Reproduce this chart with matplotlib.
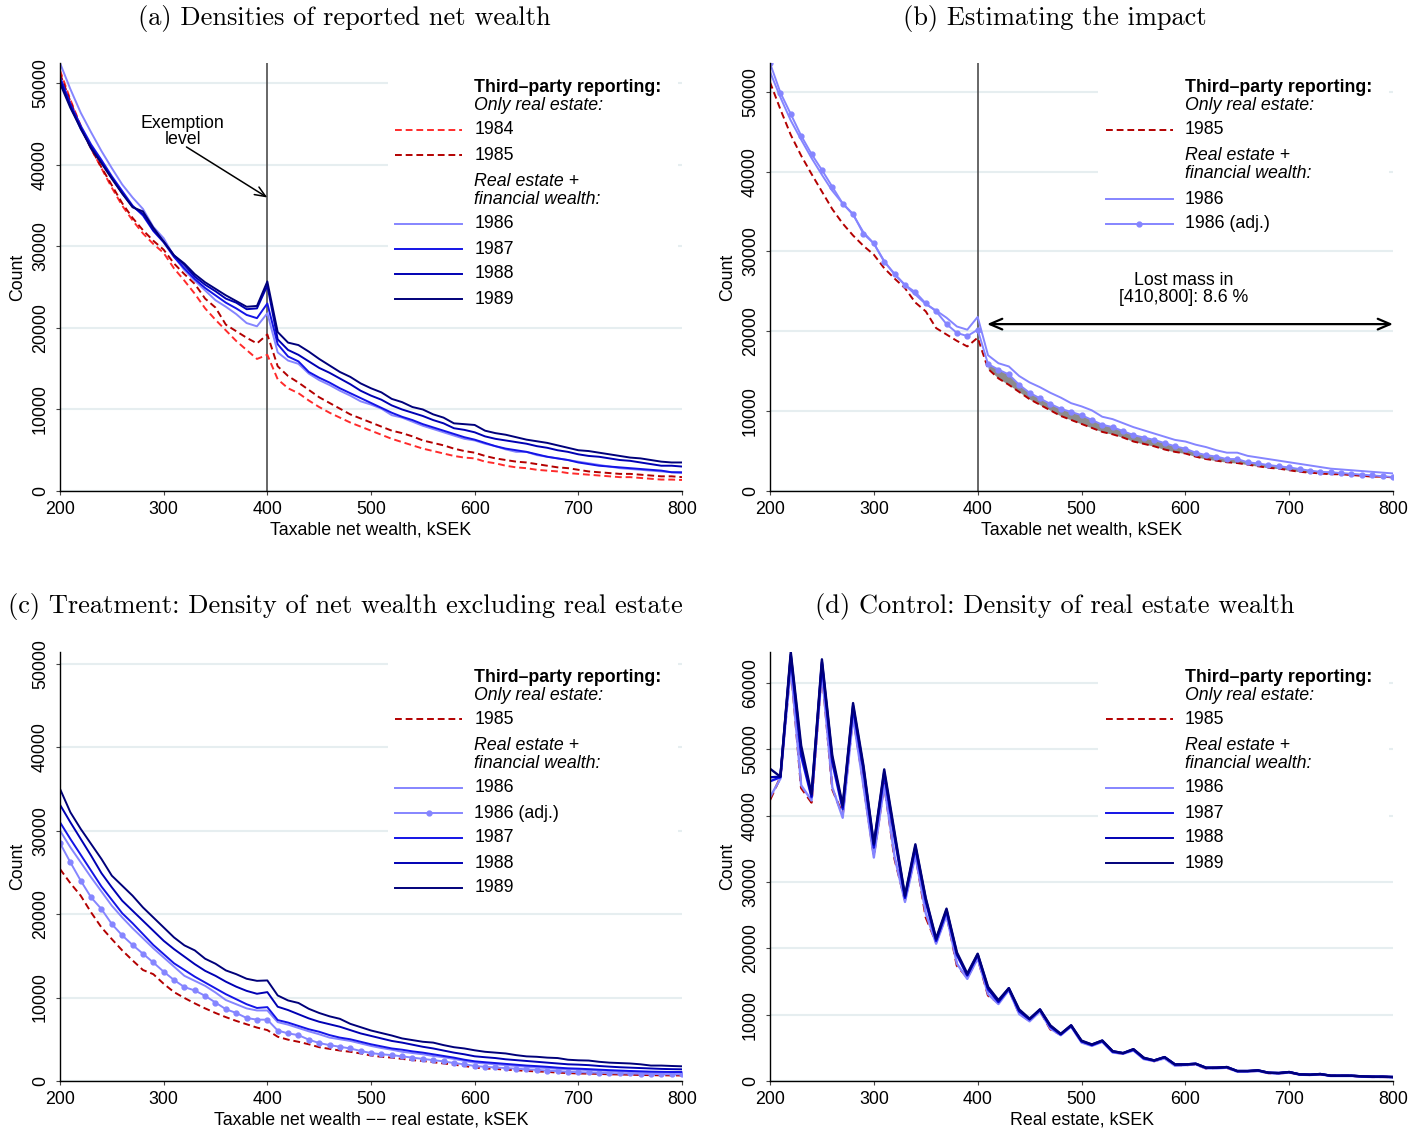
import numpy as np
import matplotlib
matplotlib.use("Agg")
import matplotlib.pyplot as plt
from matplotlib.patches import Rectangle

plt.rcParams['font.family'] = ['Liberation Sans', 'DejaVu Sans']
plt.rcParams['font.size'] = 12.8

# wealth bins (kSEK), 10k wide
bins = np.arange(200, 801, 10)

# ---- (a) taxable net wealth, counts in thousands --------------------------
a_1984 = [51.6, 48.0, 44.8, 42.0, 39.6, 37.2, 35.0, 33.2, 31.6, 30.3,
          29.2, 27.3, 25.8, 24.2, 22.4, 21.0, 19.7, 18.4, 17.3, 16.2,
          16.7, 13.7, 12.6, 12.0, 11.1, 10.3, 9.6, 9.0, 8.4, 7.9,
          7.4, 6.9, 6.4, 6.0, 5.6, 5.2, 4.9, 4.6, 4.3, 4.1,
          4.0, 3.6, 3.4, 3.1, 2.9, 2.8, 2.6, 2.5, 2.4, 2.2,
          2.1, 2.0, 1.9, 1.8, 1.7, 1.7, 1.6, 1.5, 1.4, 1.4,
          1.35]
a_1985 = [51.2, 47.8, 44.6, 42.0, 39.7, 37.5, 35.3, 33.5, 32.0, 30.7,
          29.6, 27.9, 26.6, 25.4, 23.6, 22.5, 20.4, 19.6, 18.8, 18.1,
          19.2, 15.3, 14.1, 13.3, 12.4, 11.5, 10.8, 10.1, 9.4, 8.9,
          8.4, 7.9, 7.4, 7.1, 6.7, 6.2, 5.9, 5.6, 5.2, 4.9,
          4.7, 4.3, 4.0, 3.8, 3.6, 3.5, 3.3, 3.1, 2.9, 2.8,
          2.6, 2.4, 2.3, 2.2, 2.1, 2.1, 2.0, 1.9, 1.8, 1.8,
          1.7]
a_1986 = [52.5, 49.3, 46.4, 44.0, 41.7, 39.6, 37.6, 36.0, 34.6, 32.4,
          31.0, 28.8, 27.1, 25.8, 24.6, 23.4, 22.6, 21.7, 20.6, 20.2,
          21.8, 17.0, 16.0, 15.6, 14.4, 13.6, 13.0, 12.3, 11.7, 11.0,
          10.6, 10.1, 9.3, 9.0, 8.5, 8.0, 7.6, 7.2, 6.8, 6.4,
          6.2, 5.8, 5.5, 5.1, 4.8, 4.8, 4.4, 4.2, 4.0, 3.8,
          3.6, 3.4, 3.2, 3.0, 2.8, 2.7, 2.6, 2.5, 2.4, 2.3,
          2.2]
a_1987 = [50.8, 47.5, 44.8, 42.5, 40.6, 38.6, 36.8, 35.0, 33.8, 31.9,
          30.5, 28.7, 27.3, 26.0, 24.9, 24.0, 23.1, 22.4, 21.6, 21.2,
          23.0, 18.0, 16.5, 15.9, 14.6, 13.9, 13.3, 12.6, 12.0, 11.4,
          10.8, 10.2, 9.6, 9.1, 8.7, 8.2, 7.8, 7.4, 7.0, 6.6,
          6.3, 5.9, 5.5, 5.2, 5.0, 4.8, 4.5, 4.2, 4.0, 3.8,
          3.5, 3.3, 3.1, 3.0, 2.9, 2.8, 2.7, 2.6, 2.5, 2.3,
          2.3]
a_1988 = [50.4, 47.2, 44.4, 42.2, 40.3, 38.4, 36.5, 34.9, 34.0, 32.0,
          30.6, 28.9, 27.7, 26.3, 25.3, 24.5, 23.6, 23.1, 22.3, 22.4,
          25.2, 18.6, 17.3, 16.7, 15.9, 15.1, 14.5, 13.8, 13.1, 12.3,
          11.7, 11.2, 10.5, 10.0, 9.6, 9.2, 8.7, 8.3, 7.7, 7.5,
          7.2, 6.7, 6.4, 6.2, 6.0, 5.8, 5.5, 5.3, 5.0, 4.8,
          4.5, 4.3, 4.2, 4.0, 3.8, 3.7, 3.5, 3.3, 3.1, 3.1,
          3.0]
a_1989 = [50.0, 47.0, 44.5, 42.0, 40.2, 38.3, 36.5, 34.8, 34.3, 32.3,
          30.6, 28.9, 27.9, 26.6, 25.6, 24.8, 24.0, 23.3, 22.6, 22.7,
          25.7, 19.5, 18.2, 17.9, 17.1, 16.2, 15.4, 14.6, 14.0, 13.2,
          12.6, 12.1, 11.3, 10.9, 10.3, 10.0, 9.4, 9.0, 8.3, 8.2,
          8.1, 7.4, 7.1, 6.9, 6.6, 6.3, 6.1, 5.9, 5.6, 5.3,
          5.0, 4.9, 4.7, 4.5, 4.3, 4.1, 4.0, 3.8, 3.6, 3.5,
          3.5]

# ---- (b) 1986 adjusted for the lost mass ----------------------------------
b_1986_adj = [53.6, 49.9, 47.2, 44.5, 42.2, 40.2, 38.1, 36.0, 34.7, 32.2,
              31.0, 28.7, 27.2, 25.8, 24.9, 23.5, 22.5, 20.9, 19.8, 19.4,
              20.2, 15.9, 15.2, 14.6, 13.3, 12.3, 11.6, 10.9, 10.3, 9.9,
              9.5, 8.9, 8.3, 8.0, 7.5, 7.0, 6.7, 6.4, 6.0, 5.6,
              5.3, 4.8, 4.5, 4.3, 4.0, 4.0, 3.6, 3.45, 3.25, 3.1,
              2.95, 2.75, 2.55, 2.4, 2.35, 2.25, 2.15, 2.05, 1.95, 1.85,
              1.75]

# ---- (c) net wealth excluding real estate ---------------------------------
c_1985 = [25.4, 23.7, 22.2, 20.2, 18.4, 17.0, 15.65, 14.45, 13.3, 12.8,
          11.65, 10.65, 9.95, 9.3, 8.7, 8.15, 7.65, 7.2, 6.8, 6.4,
          6.1, 5.3, 4.95, 4.7, 4.4, 4.05, 3.85, 3.65, 3.5, 3.3,
          3.05, 2.9, 2.8, 2.65, 2.5, 2.4, 2.25, 2.1, 1.95, 1.8,
          1.6, 1.5, 1.45, 1.35, 1.3, 1.2, 1.15, 1.1, 1.0, 0.95,
          0.9, 0.88, 0.85, 0.8, 0.78, 0.75, 0.72, 0.7, 0.68, 0.67,
          0.66]
c_1986 = [30.0, 28.0, 26.2, 24.4, 22.7, 21.0, 19.6, 18.3, 17.1, 15.9,
          14.8, 13.7, 12.6, 12.0, 11.4, 10.6, 9.7, 9.2, 8.7, 8.45,
          8.45, 7.05, 6.75, 6.35, 5.95, 5.6, 5.2, 5.0, 4.8, 4.5,
          4.2, 3.95, 3.75, 3.5, 3.35, 3.2, 3.0, 2.85, 2.65, 2.4,
          2.2, 2.1, 2.0, 1.9, 1.8, 1.7, 1.62, 1.55, 1.45, 1.4,
          1.36, 1.3, 1.25, 1.2, 1.15, 1.1, 1.07, 1.04, 1.02, 1.0,
          1.0]
c_1986_adj = [28.5, 26.2, 24.0, 22.0, 20.6, 18.8, 17.45, 16.3, 15.25, 14.2,
              13.1, 12.1, 11.25, 10.85, 10.2, 9.4, 8.6, 8.15, 7.55, 7.35,
              7.35, 6.05, 5.7, 5.5, 4.95, 4.55, 4.3, 4.1, 3.9, 3.6,
              3.35, 3.2, 3.1, 2.95, 2.8, 2.65, 2.5, 2.35, 2.15, 2.0,
              1.8, 1.7, 1.62, 1.55, 1.48, 1.4, 1.33, 1.25, 1.18, 1.1,
              1.06, 1.02, 0.98, 0.95, 0.92, 0.9, 0.87, 0.85, 0.82, 0.8,
              0.8]
c_1987 = [31.0, 29.0, 27.1, 25.2, 23.3, 21.7, 20.1, 18.9, 17.6, 16.3,
          15.2, 14.1, 13.3, 12.5, 11.8, 11.1, 10.4, 9.8, 9.2, 8.75,
          8.85, 7.3, 7.0, 6.6, 6.2, 5.9, 5.5, 5.2, 5.0, 4.7,
          4.4, 4.15, 3.9, 3.75, 3.55, 3.4, 3.2, 3.0, 2.8, 2.55,
          2.36, 2.25, 2.15, 2.05, 1.95, 1.85, 1.78, 1.7, 1.6, 1.52,
          1.48, 1.42, 1.36, 1.3, 1.25, 1.2, 1.16, 1.12, 1.1, 1.08,
          1.08]
c_1988 = [33.1, 31.0, 29.0, 27.0, 24.9, 23.2, 21.6, 20.4, 19.2, 18.0,
          16.8, 15.8, 14.9, 14.0, 13.2, 12.6, 11.9, 11.3, 10.8, 10.45,
          10.65, 8.9, 8.5, 8.0, 7.5, 7.1, 6.8, 6.5, 6.1, 5.7,
          5.4, 5.1, 4.8, 4.6, 4.35, 4.1, 3.9, 3.65, 3.4, 3.2,
          2.96, 2.85, 2.75, 2.6, 2.5, 2.4, 2.3, 2.2, 2.1, 2.0,
          1.96, 1.9, 1.8, 1.72, 1.65, 1.6, 1.55, 1.5, 1.45, 1.42,
          1.4]
c_1989 = [35.0, 32.2, 30.2, 28.4, 26.6, 24.6, 23.4, 22.2, 20.8, 19.6,
          18.4, 17.2, 16.25, 15.65, 14.65, 14.05, 13.25, 12.8, 12.25, 12.0,
          12.05, 10.25, 9.65, 9.35, 8.65, 8.15, 7.75, 7.45, 6.85, 6.45,
          6.05, 5.75, 5.45, 5.1, 4.9, 4.7, 4.6, 4.3, 4.05, 3.9,
          3.68, 3.5, 3.4, 3.3, 3.1, 2.95, 2.9, 2.8, 2.75, 2.55,
          2.48, 2.45, 2.3, 2.2, 2.15, 2.1, 2.0, 1.85, 1.85, 1.8,
          1.76]

# ---- (d) real estate wealth -----------------------------------------------
d_1985 = [42.4, 45.8, 62.8, 44.2, 42.0, 62.0, 44.0, 40.2, 55.2, 44.8,
          34.0, 44.8, 33.5, 27.3, 34.3, 24.7, 20.9, 25.2, 17.4, 15.6,
          18.6, 12.9, 11.8, 13.8, 10.2, 9.1, 10.6, 7.8, 7.0, 8.3,
          5.9, 5.4, 6.0, 4.4, 4.1, 4.7, 3.4, 3.0, 3.5, 2.4,
          2.4, 2.5, 1.9, 2.0, 2.0, 1.45, 1.45, 1.55, 1.2, 1.15,
          1.3, 0.98, 0.92, 1.0, 0.78, 0.78, 0.78, 0.68, 0.62, 0.62,
          0.58]
d_1986 = [42.8, 45.6, 62.5, 44.6, 42.3, 61.7, 44.3, 39.7, 54.9, 44.5,
          33.7, 44.6, 33.8, 27.0, 34.0, 25.3, 20.7, 25.0, 17.7, 15.4,
          18.5, 13.1, 11.6, 13.7, 10.1, 9.0, 10.5, 7.9, 6.9, 8.2,
          5.8, 5.3, 5.9, 4.3, 4.1, 4.6, 3.3, 3.0, 3.4, 2.3,
          2.4, 2.5, 1.9, 1.9, 2.0, 1.4, 1.4, 1.5, 1.2, 1.1,
          1.3, 0.95, 0.9, 1.0, 0.75, 0.75, 0.75, 0.65, 0.6, 0.6,
          0.55]
d_1987 = [45.2, 45.8, 64.0, 49.0, 42.8, 62.9, 48.0, 41.0, 56.2, 46.8,
          35.2, 46.2, 36.6, 27.6, 35.1, 27.0, 21.1, 25.6, 19.0, 15.9,
          19.0, 13.8, 11.9, 13.9, 10.5, 9.3, 10.7, 8.2, 7.0, 8.3,
          6.0, 5.4, 6.0, 4.4, 4.2, 4.7, 3.4, 3.1, 3.6, 2.5,
          2.5, 2.6, 2.0, 2.0, 2.1, 1.5, 1.5, 1.6, 1.25, 1.2,
          1.35, 1.0, 0.95, 1.05, 0.8, 0.8, 0.8, 0.7, 0.65, 0.65,
          0.6]
d_1988 = [45.8, 45.9, 64.3, 49.8, 43.0, 63.2, 48.6, 41.3, 56.6, 47.2,
          35.6, 46.6, 37.1, 27.8, 35.4, 27.4, 21.3, 25.8, 19.2, 16.0,
          19.1, 14.0, 12.0, 14.0, 10.6, 9.3, 10.8, 8.3, 7.1, 8.4,
          6.0, 5.5, 6.1, 4.5, 4.2, 4.8, 3.5, 3.1, 3.6, 2.5,
          2.5, 2.6, 2.0, 2.0, 2.1, 1.5, 1.5, 1.6, 1.25, 1.2,
          1.35, 1.0, 0.95, 1.05, 0.8, 0.8, 0.8, 0.7, 0.65, 0.65,
          0.6]
d_1989 = [47.1, 45.9, 64.7, 50.6, 43.3, 63.6, 49.1, 41.6, 57.0, 47.6,
          35.8, 47.0, 37.5, 28.0, 35.7, 27.6, 21.5, 26.0, 19.4, 16.2,
          19.2, 14.2, 12.2, 14.0, 10.8, 9.4, 10.8, 8.4, 7.1, 8.4,
          6.1, 5.5, 6.1, 4.5, 4.2, 4.8, 3.5, 3.1, 3.6, 2.5,
          2.5, 2.6, 2.0, 2.0, 2.1, 1.5, 1.5, 1.6, 1.25, 1.2,
          1.35, 1.0, 0.95, 1.05, 0.8, 0.8, 0.8, 0.7, 0.65, 0.65,
          0.6]

STYLE = {
    '1984': dict(color='#ff2b2b', ls=(0, (3.5, 2))),
    '1985': dict(color='#b30000', ls=(0, (3.5, 2))),
    '1986': dict(color='#8585ff', ls='-'),
    '1986 (adj.)': dict(color='#8585ff', ls='-', marker='o', ms=3.5),
    '1987': dict(color='#1414e6', ls='-'),
    '1988': dict(color='#0000b3', ls='-'),
    '1989': dict(color='#00007a', ls='-'),
}
LW = 1.4


def k(v):
    return np.asarray(v) * 1000


def setup_axes(ax, ymax, ystep, xlabel):
    ax.set_xlim(200, 800)
    ax.set_ylim(0, ymax)
    for s in ['top', 'right']:
        ax.spines[s].set_visible(False)
    for s in ['left', 'bottom']:
        ax.spines[s].set_linewidth(1.0)
    ax.set_xticks(range(200, 801, 100))
    yt = list(range(0, int(ymax) + 1, ystep))
    ax.set_yticks(yt)
    ax.set_yticklabels([str(t) for t in yt], rotation=90, va='center')
    ax.tick_params(axis='both', direction='out', length=3, width=0.8,
                   color='#444444', labelsize=12.8)
    ax.tick_params(axis='y', pad=5)
    ax.tick_params(axis='x', pad=4)
    ax.yaxis.grid(True, color='#e6eef0', lw=1.5)
    ax.set_axisbelow(True)
    ax.set_ylabel('Count', fontsize=12.8, labelpad=4)
    ax.set_xlabel(xlabel, fontsize=12.8, labelpad=3)


def add_key(ax, ax_h, first, second):
    """Stata-like key: bold title, two italic group headers, sample lines."""
    tr = ax.transAxes

    def fy(px):
        return 1 - (px + 2) / ax_h

    def row(label, y):
        st = dict(STYLE[label])
        marker = st.pop('marker', None)
        ms = st.pop('ms', None)
        ax.plot([0.539, 0.647], [fy(y), fy(y)], transform=tr, lw=LW,
                clip_on=False, zorder=3, **st)
        if marker:
            ax.plot([0.593], [fy(y)], transform=tr, marker=marker, ms=ms,
                    color=st['color'], clip_on=False, zorder=3)
        ax.text(0.666, fy(y), label, transform=tr, va='center', zorder=3)

    ax.text(0.666, fy(23), 'Third\u2013party reporting:', transform=tr,
            va='center', fontweight='bold', zorder=3)
    ax.text(0.666, fy(41), 'Only real estate:', transform=tr,
            va='center', style='italic', zorder=3)
    y = 65
    for lab in first:
        row(lab, y)
        y += 25
    y -= 25
    ax.text(0.666, fy(y + 26), 'Real estate +', transform=tr,
            va='center', style='italic', zorder=3)
    ax.text(0.666, fy(y + 44), 'financial wealth:', transform=tr,
            va='center', style='italic', zorder=3)
    y += 69
    for lab in second:
        row(lab, y)
        y += 25
    bottom = y - 25 + 14
    ax.add_patch(Rectangle((0.527, fy(bottom)), 0.466, fy(2) - fy(bottom),
                           transform=tr, facecolor='white', edgecolor='none',
                           zorder=1))


def draw(ax, label, values, lw=LW):
    st = dict(STYLE[label])
    ax.plot(bins, k(values), lw=lw, zorder=2, **st)


fig = plt.figure(figsize=(14.24, 11.32), dpi=100)
W, H = 1424, 1132


def axes_px(l, t, r, b):
    return fig.add_axes([l / W, 1 - b / H, (r - l) / W, (b - t) / H])


# (a)
ax = axes_px(60, 63, 682, 491)
setup_axes(ax, 52500, 10000, 'Taxable net wealth, kSEK')
ax.axvline(400, color='#4d4d4d', lw=1.2, zorder=1.8)
for lab, v in [('1984', a_1984), ('1985', a_1985), ('1986', a_1986),
               ('1987', a_1987), ('1988', a_1988), ('1989', a_1989)]:
    draw(ax, lab, v)
ax.text(318.5, 44100, 'Exemption\nlevel', ha='center', va='center',
        linespacing=0.95)
ax.annotate('', xy=(400, 36000), xytext=(322, 42200),
            arrowprops=dict(arrowstyle='->,head_length=0.6,head_width=0.25',
                            color='black', lw=1.1, shrinkA=0, shrinkB=0))
add_key(ax, 428, ['1984', '1985'], ['1986', '1987', '1988', '1989'])

# (b)
ax = axes_px(770, 63, 1393, 491)
setup_axes(ax, 53600, 10000, 'Taxable net wealth, kSEK')
ax.axvline(400, color='#4d4d4d', lw=1.2, zorder=1.8)
right = bins >= 410
ax.fill_between(bins[right], k(a_1985)[right], k(b_1986_adj)[right],
                color='#8c8c8c', lw=0, zorder=1.9)
draw(ax, '1985', a_1985)
draw(ax, '1986', a_1986)
draw(ax, '1986 (adj.)', b_1986_adj)
ax.text(598, 25300, 'Lost mass in\n[410,800]: 8.6 %', ha='center',
        va='center', linespacing=0.95)
ax.annotate('', xy=(800, 20900), xytext=(409, 20900),
            arrowprops=dict(arrowstyle='<->,head_length=0.7,head_width=0.3',
                            color='black', lw=1.6, shrinkA=0, shrinkB=0))
add_key(ax, 428, ['1985'], ['1986', '1986 (adj.)'])

# (c)
ax = axes_px(60, 652, 682, 1081)
setup_axes(ax, 51400, 10000,
           'Taxable net wealth \u2212\u2212 real estate, kSEK')
for lab, v in [('1985', c_1985), ('1986', c_1986), ('1986 (adj.)', c_1986_adj),
               ('1987', c_1987), ('1988', c_1988), ('1989', c_1989)]:
    draw(ax, lab, v)
add_key(ax, 429, ['1985'], ['1986', '1986 (adj.)', '1987', '1988', '1989'])

# (d)
ax = axes_px(770, 652, 1393, 1081)
setup_axes(ax, 64700, 10000, 'Real estate, kSEK')
for lab, v in [('1985', d_1985), ('1986', d_1986), ('1987', d_1987),
               ('1988', d_1988), ('1989', d_1989)]:
    draw(ax, lab, v, lw=1.7)
add_key(ax, 429, ['1985'], ['1986', '1987', '1988', '1989'])

# panel titles
tkw = dict(ha='center', va='center', fontsize=19, family='cmr10')
fig.text(344 / W, 1 - 19 / H, '(a) Densities of reported net wealth', **tkw)
fig.text(1055 / W, 1 - 19 / H, '(b) Estimating the impact', **tkw)
fig.text(345 / W, 1 - 607 / H,
         '(c) Treatment: Density of net wealth excluding real estate', **tkw)
fig.text(1055 / W, 1 - 607 / H, '(d) Control: Density of real estate wealth', **tkw)

fig.savefig('out.png', dpi=100)
